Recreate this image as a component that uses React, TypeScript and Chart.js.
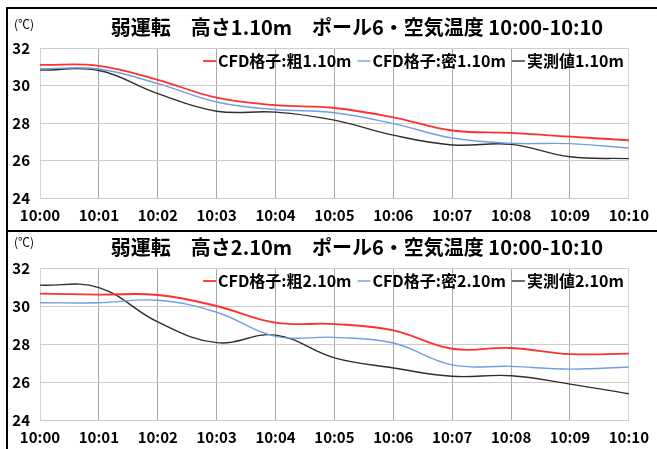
import React, { useEffect, useRef } from 'react';
import { Chart, registerables } from 'chart.js';

Chart.register(...registerables);

const timeLabels = ['10:00', '10:01', '10:02', '10:03', '10:04', '10:05', '10:06', '10:07', '10:08', '10:09', '10:10'];
const yMin = 24;
const yMax = 32;
const yStep = 2;

// 高さ1.10m
const coarse110 = [31.1, 31.05, 30.3, 29.35, 28.95, 28.8, 28.3, 27.6, 27.47, 27.27, 27.08];
const dense110 = [30.9, 30.88, 30.1, 29.12, 28.72, 28.55, 27.97, 27.2, 26.92, 26.9, 26.66];
const measured110 = [30.82, 30.8, 29.57, 28.63, 28.58, 28.15, 27.35, 26.83, 26.86, 26.2, 26.1];

// 高さ2.10m
const coarse210 = [30.65, 30.6, 30.58, 30.0, 29.12, 29.05, 28.72, 27.75, 27.79, 27.47, 27.49];
const dense210 = [30.17, 30.17, 30.3, 29.67, 28.4, 28.35, 28.05, 26.9, 26.82, 26.68, 26.79];
const measured210 = [31.1, 30.97, 29.16, 28.07, 28.47, 27.27, 26.74, 26.3, 26.33, 25.89, 25.38];

const title110 = '弱運転　高さ1.10m　ポール6・空気温度 10:00-10:10';
const title210 = '弱運転　高さ2.10m　ポール6・空気温度 10:00-10:10';
const legend110 = ['CFD格子:粗1.10m', 'CFD格子:密1.10m', '実測値1.10m'];
const legend210 = ['CFD格子:粗2.10m', 'CFD格子:密2.10m', '実測値2.10m'];
const unitLabel = '(℃)';

const FONT = '"Noto Sans CJK JP", "Noto Sans", sans-serif';
const COLORS = ['#ff3030', '#6e9fe0', '#2e2e2e'];
const WIDTHS = [1.8, 1.4, 1.4];

type PanelProps = {
  top: number;
  height: number;
  plotTop: number;
  xAxisHeight: number;
  titleY: number;
  unitY: number;
  title: string;
  names: string[];
  series: number[][];
};

const CANVAS_W = 649;

function Panel(props: PanelProps) {
  const ref = useRef<HTMLCanvasElement | null>(null);
  useEffect(() => {
    if (!ref.current) return;
    const headerPlugin = {
      id: 'header',
      afterDraw(chart: any) {
        const ctx = chart.ctx;
        ctx.save();
        ctx.fillStyle = '#000';
        ctx.textBaseline = 'middle';
        ctx.textAlign = 'center';
        ctx.font = `bold 20px ${FONT}`;
        ctx.fillText(props.title, 349, props.titleY);
        ctx.textAlign = 'left';
        ctx.font = `12px ${FONT}`;
        ctx.fillText(unitLabel, 6, props.unitY);
        // inline legend (right aligned, inside the plot area)
        ctx.font = `bold 16px ${FONT}`;
        const area = chart.chartArea;
        let x = area.right - 5;
        const y = area.top + 13;
        const ds = chart.data.datasets;
        for (let i = ds.length - 1; i >= 0; i--) {
          const label = ds[i].label as string;
          const w = ctx.measureText(label).width;
          x -= w;
          ctx.fillStyle = '#000';
          ctx.textAlign = 'left';
          ctx.fillText(label, x, y);
          ctx.strokeStyle = ds[i].borderColor;
          ctx.lineWidth = ds[i].borderWidth;
          ctx.beginPath();
          ctx.moveTo(x - 15, y);
          ctx.lineTo(x - 2, y);
          ctx.stroke();
          x -= 21;
        }
        ctx.restore();
      },
    };
    const chart = new Chart(ref.current, {
      type: 'line',
      data: {
        labels: timeLabels,
        datasets: props.series.map((s, i) => ({
          label: props.names[i],
          data: s,
          borderColor: COLORS[i],
          backgroundColor: COLORS[i],
          borderWidth: WIDTHS[i],
          pointRadius: 0,
          tension: 0.4,
          fill: false,
        })),
      },
      options: {
        animation: false,
        responsive: false,
        layout: { padding: { left: 0, right: 20, top: props.plotTop, bottom: 0 } },
        plugins: {
          legend: { display: false },
          title: { display: false },
          tooltip: { enabled: false },
        },
        scales: {
          x: {
            offset: false,
            border: { display: false },
            grid: {
              drawTicks: false,
              color: (c: any) => (c.index === 0 || c.index === timeLabels.length - 1 ? '#d4d4d4' : '#a8a8a8'),
              lineWidth: 1,
            },
            ticks: { color: '#000', font: { family: FONT, size: 15, weight: 'bold' }, padding: 8, maxRotation: 0, autoSkip: false },
            afterFit: (s: any) => {
              s.height = props.xAxisHeight;
            },
          },
          y: {
            min: yMin,
            max: yMax,
            border: { display: false },
            grid: { drawTicks: false, color: '#cccccc', lineWidth: 1 },
            ticks: { stepSize: yStep, color: '#000', font: { family: FONT, size: 15, weight: 'bold' }, padding: 10 },
            afterFit: (s: any) => {
              s.width = 32;
            },
          },
        },
      },
      plugins: [headerPlugin],
    });
    return () => chart.destroy();
  }, []);
  return (
    <canvas
      ref={ref}
      width={CANVAS_W}
      height={props.height}
      style={{ position: 'absolute', left: 8, top: props.top, width: CANVAS_W, height: props.height }}
    />
  );
}

export default function App() {
  return (
    <div style={{ position: 'fixed', left: 0, top: 0, width: 657, height: 449, background: '#fff', overflow: 'hidden' }}>
      <Panel top={9} height={221} plotTop={39} xAxisHeight={32} titleY={18} unitY={15} title={title110} names={legend110} series={[coarse110, dense110, measured110]} />
      <Panel top={232} height={217} plotTop={36} xAxisHeight={29} titleY={15} unitY={10} title={title210} names={legend210} series={[coarse210, dense210, measured210]} />
      <div style={{ position: 'absolute', left: 6, top: 7, width: 2, height: 442, background: '#000' }} />
      <div style={{ position: 'absolute', left: 6, top: 7, width: 651, height: 2, background: '#000' }} />
      <div style={{ position: 'absolute', left: 6, top: 230, width: 651, height: 2, background: '#000' }} />
    </div>
  );
}
